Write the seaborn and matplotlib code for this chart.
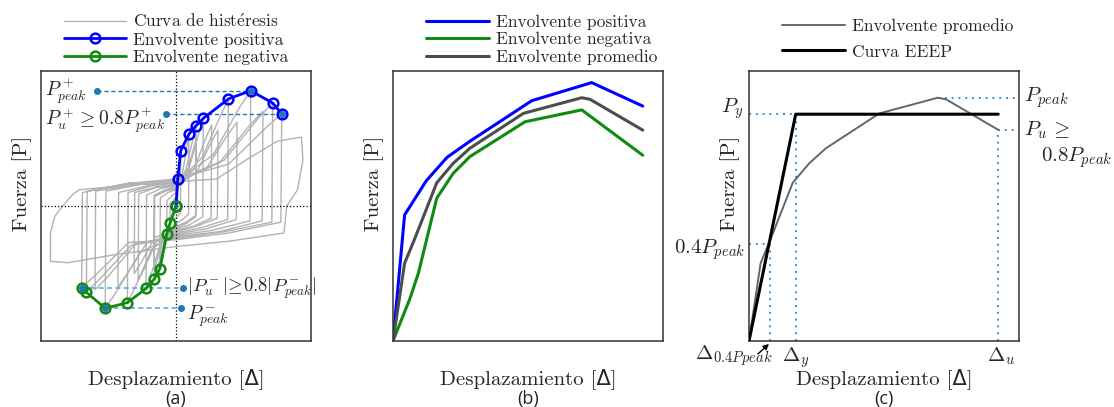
import matplotlib
matplotlib.use("Agg")
import matplotlib.pyplot as plt
import pandas as pd
import seaborn as sns

# ---------------- data ----------------
# (a) envelopes of the cyclic test (normalised units, origin at centre)
pos_env_x = [0.0, 0.013, 0.035, 0.096, 0.148, 0.202, 0.388, 0.553, 0.716, 0.783]
pos_env_y = [0.0, 0.200, 0.410, 0.533, 0.594, 0.649, 0.793, 0.854, 0.763, 0.684]
neg_env_x = [0.0, -0.044, -0.069, -0.119, -0.161, -0.222, -0.360, -0.524, -0.664, -0.699]
neg_env_y = [0.0, -0.128, -0.207, -0.464, -0.541, -0.611, -0.716, -0.758, -0.639, -0.605]

# (a) hysteresis loops, one list of (x, y) per cycle
hyst_cycles = [
    [(0, 0.05), (0.008, 0.08), (0.013, 0.20), (0.012, -0.03), (0, -0.05), (-0.026, -0.06), (-0.044, -0.128), (-0.043, 0.02), (-0.02, 0.04)],
    [(0, 0.07), (0.021, 0.16), (0.035, 0.41), (0.033, -0.05), (0.017, -0.07), (0, -0.09), (-0.04, -0.10), (-0.069, -0.207), (-0.067, 0.04), (-0.035, 0.07)],
    [(0, 0.10), (0.048, 0.24), (0.082, 0.45), (0.096, 0.533), (0.093, -0.06), (0.048, -0.10), (0, -0.13), (-0.06, -0.21), (-0.101, -0.39), (-0.119, -0.464), (-0.116, 0.06), (-0.06, 0.10)],
    [(0, 0.12), (0.074, 0.27), (0.126, 0.50), (0.148, 0.594), (0.145, -0.07), (0.075, -0.12), (0, -0.15), (-0.08, -0.24), (-0.137, -0.46), (-0.161, -0.541), (-0.158, 0.07), (-0.08, 0.11)],
    [(0, 0.13), (0.075, 0.22), (0.128, 0.42), (0.15, 0.50), (0.147, -0.08), (0.075, -0.13), (0, -0.16), (-0.083, -0.21), (-0.14, -0.40), (-0.165, -0.47), (-0.162, 0.08), (-0.08, 0.12)],
    [(0, 0.14), (0.10, 0.29), (0.172, 0.55), (0.202, 0.649), (0.198, -0.08), (0.10, -0.14), (0, -0.17), (-0.111, -0.27), (-0.189, -0.52), (-0.222, -0.611), (-0.218, 0.08), (-0.11, 0.13)],
    [(0, 0.15), (0.132, 0.27), (0.224, 0.51), (0.264, 0.60), (0.26, -0.09), (0.13, -0.15), (0, -0.18), (-0.14, -0.25), (-0.238, -0.47), (-0.28, -0.55), (-0.276, 0.09), (-0.14, 0.14)],
    [(0, 0.15), (0.155, 0.25), (0.264, 0.48), (0.311, 0.56), (0.306, -0.09), (0.15, -0.15), (0, -0.19), (-0.155, -0.23), (-0.264, -0.43), (-0.31, -0.50), (-0.306, 0.10), (-0.15, 0.14)],
    [(0, 0.16), (0.194, 0.36), (0.33, 0.67), (0.388, 0.793), (0.383, -0.10), (0.19, -0.16), (0, -0.20), (-0.18, -0.32), (-0.306, -0.61), (-0.36, -0.716), (-0.355, 0.10), (-0.18, 0.15)],
    [(0, 0.17), (0.226, 0.28), (0.384, 0.53), (0.452, 0.62), (0.447, -0.10), (0.22, -0.17), (0, -0.21), (-0.215, -0.27), (-0.366, -0.51), (-0.43, -0.60), (-0.425, 0.10), (-0.21, 0.15)],
    [(0, 0.18), (0.276, 0.38), (0.47, 0.73), (0.553, 0.854), (0.548, -0.11), (0.27, -0.18), (0, -0.22), (-0.262, -0.34), (-0.445, -0.64), (-0.524, -0.758), (-0.519, 0.11), (-0.26, 0.16)],
    [(0, 0.18), (0.322, 0.32), (0.547, 0.60), (0.644, 0.70), (0.638, -0.11), (0.32, -0.19), (0, -0.23), (-0.30, -0.28), (-0.51, -0.53), (-0.60, -0.62), (-0.595, 0.11), (-0.30, 0.16)],
    [(0, 0.19), (0.358, 0.34), (0.609, 0.65), (0.716, 0.763), (0.71, -0.12), (0.36, -0.19), (0, -0.24), (-0.332, -0.29), (-0.564, -0.54), (-0.664, -0.639), (-0.658, 0.11), (-0.33, 0.17)],
    [(0, 0.20), (0.39, 0.31), (0.666, 0.58), (0.783, 0.684), (0.777, -0.12), (0.39, -0.20), (0, -0.25), (-0.35, -0.27), (-0.594, -0.51), (-0.699, -0.605), (-0.693, 0.10), (-0.35, 0.17)],
    [(0, 0.18), (0.30, 0.20), (0.55, 0.36), (0.75, 0.48), (0.93, 0.51), (0.94, 0.34), (0.90, 0.12), (0.82, 0.0), (0.80, -0.20),
     (0.40, -0.26), (0, -0.30), (-0.45, -0.36), (-0.80, -0.42), (-0.93, -0.41), (-0.93, -0.20), (-0.90, -0.08), (-0.84, 0.0),
     (-0.77, 0.08), (-0.72, 0.12), (-0.40, 0.15), (0, 0.18)],
]

# (b) envelopes in arbitrary units (0-100)
disp_pos = [0, 4.3, 12.3, 20.0, 28.5, 51.4, 73.6, 92.5]
force_pos = [0, 46.7, 59.3, 68.0, 74.0, 89.0, 95.7, 87.0]
disp_neg = [0, 6.3, 9.4, 16.2, 22.3, 28.5, 48.9, 69.9, 92.5]
force_neg = [0, 15.8, 25.1, 52.9, 62.1, 68.3, 81.2, 85.6, 68.8]
disp_avg = [0, 4.3, 8.1, 16.2, 22.3, 28.5, 48.3, 69.9, 73.0, 92.5]
force_avg = [0, 28.8, 38.0, 58.6, 65.8, 71.4, 84.3, 90.1, 89.5, 78.1]

# (c) equivalent elastic-plastic curve
eeep_x = [0, 17.3, 92.3]
eeep_y = [0, 84.0, 84.0]
p_peak, p_y, p_u, p_04 = 90.1, 84.0, 78.1, 36.1
d_peak, d_04, d_y, d_u = 69.9, 7.8, 17.3, 92.3

# ---------------- style ----------------
sns.set_theme(style="white")
plt.rcParams["font.family"] = ["cmr10", "DejaVu Sans"]
plt.rcParams["mathtext.fontset"] = "cm"
plt.rcParams["axes.formatter.use_mathtext"] = True
plt.rcParams["axes.edgecolor"] = "#333333"
plt.rcParams["axes.linewidth"] = 1.1

LAB = 15
LEG = 12.5
MATH = 14
DOT_BLUE = "#1f77b4"
LIGHT_BLUE = "#5aaee0"

fig = plt.figure(figsize=(11.14, 4.07), dpi=100)
W, H = 1114, 407
ax_a = fig.add_axes([41 / W, 66 / H, 270 / W, 270 / H])
ax_b = fig.add_axes([393 / W, 66 / H, 270 / W, 270 / H])
ax_c = fig.add_axes([749 / W, 66 / H, 270 / W, 270 / H])


def finish(ax, tag):
    ax.set_xticks([])
    ax.set_yticks([])
    ax.set_xlabel("Desplazamiento [Δ]", fontsize=LAB)
    ax.set_ylabel("Fuerza [P]", fontsize=LAB)
    ax.xaxis.set_label_coords(0.5, -0.1)
    ax.yaxis.set_label_coords(-0.033, 0.585)
    ax.text(0.5, -0.215, tag, transform=ax.transAxes, ha="center", va="center",
            fontsize=13, family="Open Sans", color="#222222")


# ---------------- (a) ----------------
rows = []
for cyc in hyst_cycles:
    for x, y in cyc:
        rows.append({"x": x, "y": y})
hyst = pd.DataFrame(rows)
sns.lineplot(data=hyst, x="x", y="y", sort=False, estimator=None, ax=ax_a,
             color="#b3b3b3", lw=1.0, label=r"Curva de hist$\mathrm{\acute{e}}$resis", zorder=1)
ax_a.axvline(0, color="black", ls=":", lw=0.9, zorder=2)
ax_a.axhline(0, color="black", ls=":", lw=0.9, zorder=2)
sns.lineplot(x=pos_env_x, y=pos_env_y, sort=False, estimator=None, ax=ax_a, color="#0000ff",
             lw=2, marker="o", ms=7, mfc="none", mec="#0000ff", mew=1.8,
             label="Envolvente positiva", zorder=4)
sns.lineplot(x=neg_env_x, y=neg_env_y, sort=False, estimator=None, ax=ax_a, color="#108a10",
             lw=2, marker="o", ms=7, mfc="none", mec="#108a10", mew=1.8,
             label="Envolvente negativa", zorder=4)

# reference lines to the peak / ultimate points
ax_a.plot([-0.587, pos_env_x[7]], [pos_env_y[7]] * 2, color=DOT_BLUE, ls=(0, (3, 2)), lw=1, zorder=3)
ax_a.plot([-0.076, pos_env_x[9]], [pos_env_y[9]] * 2, color=DOT_BLUE, ls=(0, (3, 2)), lw=1, zorder=3)
ax_a.plot([neg_env_x[9], 0.05], [neg_env_y[9]] * 2, color=LIGHT_BLUE, ls=(0, (3, 2)), lw=1.2, zorder=3)
ax_a.plot([neg_env_x[7], 0.037], [neg_env_y[7]] * 2, color=LIGHT_BLUE, ls=(0, (3, 2)), lw=1.2, zorder=3)
ax_a.plot([-0.587, -0.076, 0.05, 0.037, pos_env_x[7], pos_env_x[9], neg_env_x[9], neg_env_x[7]],
          [pos_env_y[7], pos_env_y[9], neg_env_y[9], neg_env_y[7], pos_env_y[7], pos_env_y[9], neg_env_y[9], neg_env_y[7]],
          ls="none", marker="o", ms=4, color=DOT_BLUE, zorder=5)

ax_a.text(-0.97, pos_env_y[7], r"$P^+_{peak}$", fontsize=MATH, ha="left", va="center")
ax_a.text(-0.97, 0.64, r"$P^+_u \geq 0.8P^+_{peak}$", fontsize=MATH, ha="left", va="center")
ax_a.text(0.08, -0.607, r"$|P^-_u|\!\geq\!0.8|P^-_{peak}|$", fontsize=13.5, ha="left", va="center")
ax_a.text(0.08, -0.82, r"$P^-_{peak}$", fontsize=MATH, ha="left", va="center")

ax_a.set_xlim(-1, 1)
ax_a.set_ylim(-1, 1)
ax_a.legend(loc="lower center", bbox_to_anchor=(0.5, 1.0), frameon=False, fontsize=LEG,
            handlelength=3.6, handletextpad=0.4, labelspacing=0.12, borderaxespad=0.15, borderpad=0.2)
finish(ax_a, "(a)")

# ---------------- (b) ----------------
sns.lineplot(x=disp_pos, y=force_pos, sort=False, estimator=None, ax=ax_b, color="#0000ff", lw=2.2,
             label="Envolvente positiva")
sns.lineplot(x=disp_neg, y=force_neg, sort=False, estimator=None, ax=ax_b, color="#108a10", lw=2.2,
             label="Envolvente negativa")
sns.lineplot(x=disp_avg, y=force_avg, sort=False, estimator=None, ax=ax_b, color="#4d4d4d", lw=2.2,
             label="Envolvente promedio")
ax_b.set_xlim(0, 100)
ax_b.set_ylim(0, 100)
ax_b.legend(loc="lower center", bbox_to_anchor=(0.55, 1.0), frameon=False, fontsize=LEG,
            handlelength=3.6, handletextpad=0.4, labelspacing=0.12, borderaxespad=0.15, borderpad=0.2)
finish(ax_b, "(b)")

# ---------------- (c) ----------------
sns.lineplot(x=disp_avg, y=force_avg, sort=False, estimator=None, ax=ax_c, color="#666666", lw=1.4,
             label="Envolvente promedio", zorder=3)
sns.lineplot(x=eeep_x, y=eeep_y, sort=False, estimator=None, ax=ax_c, color="black", lw=2.2,
             label="Curva EEEP", zorder=4)
dots = dict(color="#3d8fd1", ls=(0, (1, 2.5)), lw=1.4, zorder=2)
ax_c.plot([d_04, d_04], [0, p_04], **dots)
ax_c.plot([0, d_04], [p_04, p_04], **dots)
ax_c.plot([d_y, d_y], [0, p_y], **dots)
ax_c.plot([0, d_y], [p_y, p_y], **dots)
ax_c.plot([d_u, d_u], [0, p_u], **dots)
ax_c.plot([d_u, 100], [p_u, p_u], **dots)
ax_c.plot([d_peak, 100], [p_peak, p_peak], **dots)

ax_c.text(-2, 86, r"$P_y$", fontsize=15, ha="right", va="center")
ax_c.text(102, 90, r"$P_{peak}$", fontsize=15, ha="left", va="center")
ax_c.text(102, 78, r"$P_u\,\geq$", fontsize=15, ha="left", va="center")
ax_c.text(108, 68, r"$0.8P_{peak}$", fontsize=15, ha="left", va="center")
ax_c.text(-1.5, 34, r"$0.4P_{peak}$", fontsize=15, ha="right", va="center")
ax_c.text(d_y, -1.5, r"$\Delta_y$", fontsize=15, ha="center", va="top")
ax_c.text(d_u + 1, -1.5, r"$\Delta_u$", fontsize=15, ha="center", va="top")
ax_c.text(-20, -5.5, r"$\Delta_{0.4Ppeak}$", fontsize=15, ha="left", va="center")
ax_c.annotate("", xy=(7.4, -1.1), xytext=(3.3, -4.8), annotation_clip=False,
              arrowprops=dict(arrowstyle="-|>", color="black", lw=1, mutation_scale=8,
                              shrinkA=0, shrinkB=0))
ax_c.set_xlim(0, 100)
ax_c.set_ylim(0, 100)
ax_c.legend(loc="lower center", bbox_to_anchor=(0.55, 1.02), frameon=False, fontsize=LEG,
            handlelength=3.6, handletextpad=0.4, labelspacing=0.6, borderaxespad=0.15, borderpad=0.2)
finish(ax_c, "(c)")

fig.savefig("out.png", dpi=100)
